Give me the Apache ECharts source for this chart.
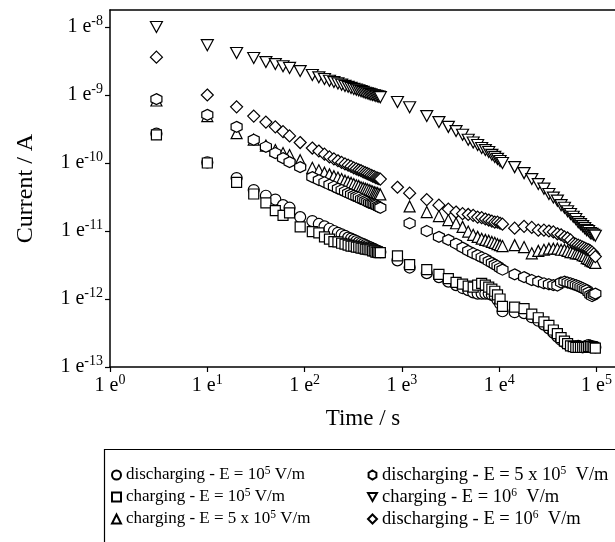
<!DOCTYPE html>
<html>
<head>
<meta charset="utf-8">
<script src="https://cdn.jsdelivr.net/npm/echarts@6/dist/echarts.min.js"></script>
<style>
  html, body { margin: 0; padding: 0; background: #fff; }
  #main { width: 615px; height: 542px; }
</style>
</head>
<body>
<div id="main"></div>
<script>
// sampling times (s): early run, second block, long run
var timeA = [3, 10, 20, 30, 40, 50, 60, 70, 90, 120, 140, 160, 180, 200, 220, 240, 260, 280, 300,
  320, 340, 360, 380, 400, 420, 440, 460, 480, 500, 520, 540, 560, 580, 600];
var timeB = [900, 1200, 1800, 2400, 3000, 3600, 4200, 4800, 5400, 6000, 6600, 7200, 7800, 8400,
  9000, 9600, 10200, 10800];
var timeC = [14400, 18000, 21600, 25200, 28800, 32400, 36000, 39600, 43200, 46800, 50400, 54000,
  57600, 61200, 64800, 68400, 72000, 75600, 79200, 82800, 86400, 90000, 93600, 97200];
var times = timeA.concat(timeB, timeC);

// current (A), same order as times
var dis1e5 = [
  2.7e-10, 1.02e-10, 6.0e-11, 4.0e-11, 3.3e-11, 2.9e-11, 2.4e-11, 2.2e-11, 1.6e-11, 1.4e-11, 1.27e-11,
  1.17e-11, 1.08e-11, 1.0e-11, 9.4e-12, 8.9e-12, 8.5e-12, 8.0e-12, 7.7e-12, 7.4e-12, 7.1e-12, 6.8e-12,
  6.6e-12, 6.4e-12, 6.2e-12, 6.0e-12, 5.8e-12, 5.7e-12, 5.5e-12, 5.4e-12, 5.25e-12, 5.1e-12, 5.0e-12, 4.9e-12,
  3.7e-12, 2.9e-12, 2.4e-12, 2.1e-12, 1.8e-12, 1.6e-12, 1.45e-12, 1.35e-12, 1.25e-12, 1.2e-12, 1.2e-12,
  1.2e-12, 1.2e-12, 1.15e-12, 1.1e-12, 9.7e-13, 8.5e-13, 6.6e-13,
  6.4e-13, 6.2e-13, 5.4e-13, 4.8e-13, 4.2e-13, 3.7e-13, 3.2e-13, 2.8e-13, 2.5e-13, 2.3e-13, 2.15e-13,
  2.05e-13, 2.0e-13, 2.0e-13, 2.05e-13, 2.0e-13, 1.95e-13, 2.0e-13, 2.05e-13, 2.1e-13, 2.05e-13, 2.0e-13,
  2.0e-13, 1.95e-13
];
var chg1e5 = [
  2.6e-10, 1.0e-10, 5.2e-11, 3.5e-11, 2.6e-11, 2.0e-11, 1.7e-11, 1.85e-11, 1.15e-11, 9.8e-12, 9.4e-12,
  8.2e-12, 7.6e-12, 7.0e-12, 6.9e-12, 6.6e-12, 6.4e-12, 6.2e-12, 6.0e-12, 6.0e-12, 5.8e-12, 5.8e-12,
  5.6e-12, 5.6e-12, 5.4e-12, 5.4e-12, 5.3e-12, 5.3e-12, 5.1e-12, 5.1e-12, 4.9e-12, 4.9e-12, 4.8e-12, 4.8e-12,
  4.3e-12, 3.2e-12, 2.7e-12, 2.3e-12, 2.0e-12, 1.75e-12, 1.65e-12, 1.55e-12, 1.5e-12, 1.6e-12, 1.7e-12,
  1.6e-12, 1.5e-12, 1.4e-12, 1.3e-12, 1.15e-12, 1.0e-12, 7.8e-13,
  7.6e-13, 7.2e-13, 6.0e-13, 5.3e-13, 4.6e-13, 4.1e-13, 3.5e-13, 3.1e-13, 2.7e-13, 2.4e-13, 2.2e-13,
  2.05e-13, 2.0e-13, 1.95e-13, 1.95e-13, 1.95e-13, 1.95e-13, 1.95e-13, 1.95e-13, 2.0e-13, 2.0e-13, 2.0e-13,
  1.95e-13, 1.9e-13
];
var chg5e5 = [
  8.3e-10, 4.9e-10, 2.75e-10, 2.2e-10, 1.8e-10, 1.55e-10, 1.4e-10, 1.31e-10, 1.1e-10, 8.5e-11, 7.8e-11,
  7.2e-11, 6.8e-11, 6.4e-11, 6.1e-11, 5.8e-11, 5.5e-11, 5.3e-11, 5.1e-11, 4.9e-11, 4.7e-11, 4.6e-11,
  4.4e-11, 4.3e-11, 4.2e-11, 4.1e-11, 4.0e-11, 3.9e-11, 3.8e-11, 3.7e-11, 3.65e-11, 3.6e-11, 3.5e-11, 3.45e-11,
  null, 2.3e-11, 1.9e-11, 1.66e-11, 1.45e-11, 1.3e-11, 1.15e-11, 9.8e-12, 8.8e-12, 8.2e-12, 7.7e-12,
  7.4e-12, 7.2e-12, 6.9e-12, 6.7e-12, 6.4e-12, 6.2e-12, 6.0e-12,
  6.2e-12, 5.8e-12, 4.7e-12, 5.1e-12, 5.3e-12, 5.5e-12, 5.5e-12, 5.5e-12, 5.3e-12, 5.3e-12, 5.1e-12,
  4.9e-12, 4.9e-12, 4.7e-12, 4.7e-12, 4.6e-12, 4.4e-12, 4.3e-12, 4.0e-12, 3.9e-12, 3.7e-12, 3.6e-12,
  3.5e-12, 3.4e-12
];
var dis5e5 = [
  8.7e-10, 5.1e-10, 3.4e-10, 2.2e-10, 1.73e-10, 1.4e-10, 1.18e-10, 1.03e-10, 8.7e-11, 6.2e-11, 5.6e-11,
  5.2e-11, 4.8e-11, 4.5e-11, 4.2e-11, 4.0e-11, 3.8e-11, 3.6e-11, 3.45e-11, 3.3e-11, 3.2e-11, 3.1e-11,
  2.95e-11, 2.9e-11, 2.8e-11, 2.7e-11, 2.6e-11, 2.55e-11, 2.5e-11, 2.45e-11, 2.4e-11, 2.3e-11, 2.25e-11, 2.2e-11,
  null, 1.3e-11, 1.0e-11, 8.2e-12, 7.4e-12, 6.5e-12, 5.7e-12, 5.1e-12, 4.7e-12, 4.4e-12, 4.1e-12,
  3.9e-12, 3.6e-12, 3.4e-12, 3.2e-12, 3.05e-12, 2.85e-12, 2.7e-12,
  2.3e-12, 2.1e-12, 1.9e-12, 1.8e-12, 1.7e-12, 1.65e-12, 1.6e-12, 1.58e-12, 1.75e-12, 1.8e-12, 1.75e-12,
  1.7e-12, 1.65e-12, 1.6e-12, 1.55e-12, 1.5e-12, 1.45e-12, 1.4e-12, 1.35e-12, 1.25e-12, 1.15e-12, 1.1e-12,
  1.15e-12, 1.2e-12
];
var chg1e6 = [
  1.0e-8, 5.4e-9, 4.15e-9, 3.5e-9, 3.05e-9, 2.85e-9, 2.65e-9, 2.5e-9, 2.25e-9, 1.97e-9, 1.82e-9,
  1.72e-9, 1.62e-9, 1.55e-9, 1.48e-9, 1.42e-9, 1.36e-9, 1.32e-9, 1.27e-9, 1.23e-9, 1.2e-9, 1.17e-9,
  1.14e-9, 1.11e-9, 1.08e-9, 1.06e-9, 1.04e-9, 1.02e-9, 1.0e-9, 9.9e-10, 9.7e-10, 9.6e-10, 9.45e-10, 9.3e-10,
  7.9e-10, 6.6e-10, 4.9e-10, 4.0e-10, 3.4e-10, 2.95e-10, 2.6e-10, 2.2e-10, 2.0e-10, 1.84e-10, 1.66e-10,
  1.55e-10, 1.45e-10, 1.32e-10, 1.23e-10, 1.15e-10, 1.07e-10, 1.0e-10,
  8.7e-11, 7.1e-11, 5.8e-11, 4.9e-11, 4.2e-11, 3.5e-11, 3.1e-11, 2.8e-11, 2.4e-11, 2.2e-11, 1.95e-11,
  1.78e-11, 1.62e-11, 1.5e-11, 1.35e-11, 1.26e-11, 1.18e-11, 1.1e-11, 1.03e-11, 1.0e-11, 9.3e-12, 9.1e-12,
  8.8e-12, 8.5e-12
];
var dis1e6 = [
  3.6e-9, 1.0e-9, 6.7e-10, 4.9e-10, 4.0e-10, 3.4e-10, 2.9e-10, 2.5e-10, 2.0e-10, 1.66e-10, 1.5e-10,
  1.35e-10, 1.23e-10, 1.15e-10, 1.08e-10, 1.02e-10, 9.7e-11, 9.3e-11, 8.9e-11, 8.5e-11, 8.2e-11, 7.9e-11,
  7.7e-11, 7.4e-11, 7.2e-11, 7.0e-11, 6.8e-11, 6.6e-11, 6.4e-11, 6.3e-11, 6.1e-11, 6.0e-11, 5.9e-11, 5.8e-11,
  4.4e-11, 3.6e-11, 2.9e-11, 2.4e-11, 2.1e-11, 1.9e-11, 1.8e-11, 1.75e-11, 1.7e-11, 1.6e-11, 1.57e-11,
  1.5e-11, 1.45e-11, 1.4e-11, 1.35e-11, 1.35e-11, 1.3e-11, 1.26e-11,
  1.1e-11, 1.17e-11, 1.13e-11, 1.03e-11, 1.03e-11, 1.0e-11, 9.7e-12, 9.1e-12, 8.8e-12, 8.2e-12, 7.9e-12,
  7.4e-12, 6.6e-12, 6.4e-12, 6.2e-12, 6.0e-12, 5.8e-12, 5.6e-12, 5.4e-12, 5.3e-12, 5.1e-12, 4.9e-12,
  4.6e-12, 4.2e-12
];

// axis ticks are decades (log10)
var xTicks = [0, 1, 2, 3, 4, 5];
var yTicks = [-13, -12, -11, -10, -9, -8];

var names = [
  'discharging - E = 10^5 V/m',
  'charging - E = 10^5 V/m',
  'charging - E = 5 x 10^5 V/m',
  'discharging - E = 5 x 10^5  V/m',
  'charging - E = 10^6  V/m',
  'discharging - E = 10^6  V/m'
];

var FONT = 'Liberation Serif';
var HEX = 'path://M5,0 L9.33,2.5 L9.33,7.5 L5,10 L0.67,7.5 L0.67,2.5 Z';
var DOWN = 'path://M0,0 L10,0 L5,9 Z';

function pts(vals) {
  var out = [];
  for (var i = 0; i < times.length; i++) {
    if (vals[i] == null) continue;
    out.push([Math.log10(times[i]), Math.log10(vals[i])]);
  }
  return out;
}

function mkSeries(name, vals, symbol, size) {
  return {
    name: name,
    type: 'scatter',
    data: pts(vals),
    symbol: symbol,
    symbolSize: size,
    itemStyle: {color: '#fff', borderColor: '#000', borderWidth: 1.2, opacity: 1},
    emphasis: {disabled: true}
  };
}

function decadeLabel(v) {
  return '1 e{sup|' + Math.round(v) + '}';
}

var tickRich = {sup: {fontFamily: FONT, fontSize: 14, lineHeight: 14, verticalAlign: 'top', color: '#000'}};

function legendFmt(name) {
  return name.replace(/\^(\d)/, '{sup|$1}');
}

function mkLegend(left, size, data) {
  return {
    orient: 'vertical',
    left: left,
    top: 460,
    itemGap: 2,
    itemWidth: 9,
    itemHeight: 9,
    selectedMode: false,
    data: data,
    formatter: legendFmt,
    textStyle: {
      fontFamily: FONT, fontSize: size, color: '#000', lineHeight: 20,
      rich: {sup: {fontFamily: FONT, fontSize: 11.5, lineHeight: 11, verticalAlign: 'top', color: '#000'}}
    }
  };
}

var axisLine = {onZero: false, lineStyle: {color: '#000', width: 1.5}};

var myChart = echarts.init(document.getElementById('main'));
myChart.setOption({
  animation: false,
  backgroundColor: '#fff',
  grid: {left: 110, top: 10, width: 506, height: 357, outerBoundsMode: 'none'},
  xAxis: [{
    type: 'value',
    min: 0,
    max: 5.2,
    interval: 1,
    axisLine: axisLine,
    axisTick: {length: 5, customValues: xTicks, lineStyle: {color: '#000', width: 1.2}},
    axisLabel: {
      customValues: xTicks, formatter: decadeLabel, margin: 6,
      fontFamily: FONT, fontSize: 20, lineHeight: 25, color: '#000', rich: tickRich
    },
    splitLine: {show: false},
    name: 'Time / s',
    nameLocation: 'middle',
    nameGap: 40,
    nameTextStyle: {fontFamily: FONT, fontSize: 23, color: '#000'}
  }, {
    type: 'value',
    position: 'top',
    min: 0,
    max: 5.2,
    axisLine: axisLine,
    axisTick: {show: false},
    axisLabel: {show: false},
    splitLine: {show: false}
  }],
  yAxis: {
    type: 'value',
    min: -13,
    max: -7.75,
    interval: 1,
    axisLine: axisLine,
    axisTick: {length: 5, customValues: yTicks, lineStyle: {color: '#000', width: 1.2}},
    axisLabel: {
      customValues: yTicks, formatter: decadeLabel, margin: 7,
      fontFamily: FONT, fontSize: 20, lineHeight: 25, color: '#000', rich: tickRich
    },
    splitLine: {show: false},
    name: 'Current / A',
    nameLocation: 'middle',
    nameGap: 72,
    nameTextStyle: {fontFamily: FONT, fontSize: 24, color: '#000'}
  },
  legend: [
    mkLegend(106, 17, [names[0], names[1], names[2]]),
    mkLegend(362, 18.5, [names[3], names[4], names[5]])
  ],
  graphic: [{
    type: 'rect',
    shape: {x: 104.5, y: 449.5, width: 600, height: 200},
    style: {fill: 'none', stroke: '#000', lineWidth: 1.2},
    silent: true
  }],
  series: [
    mkSeries(names[0], dis1e5, 'circle', 11),
    mkSeries(names[1], chg1e5, 'rect', 10),
    mkSeries(names[2], chg5e5, 'triangle', 11),
    mkSeries(names[3], dis5e5, HEX, 11),
    mkSeries(names[4], chg1e6, DOWN, [12, 11]),
    mkSeries(names[5], dis1e6, 'diamond', 12)
  ]
});
</script>
</body>
</html>
